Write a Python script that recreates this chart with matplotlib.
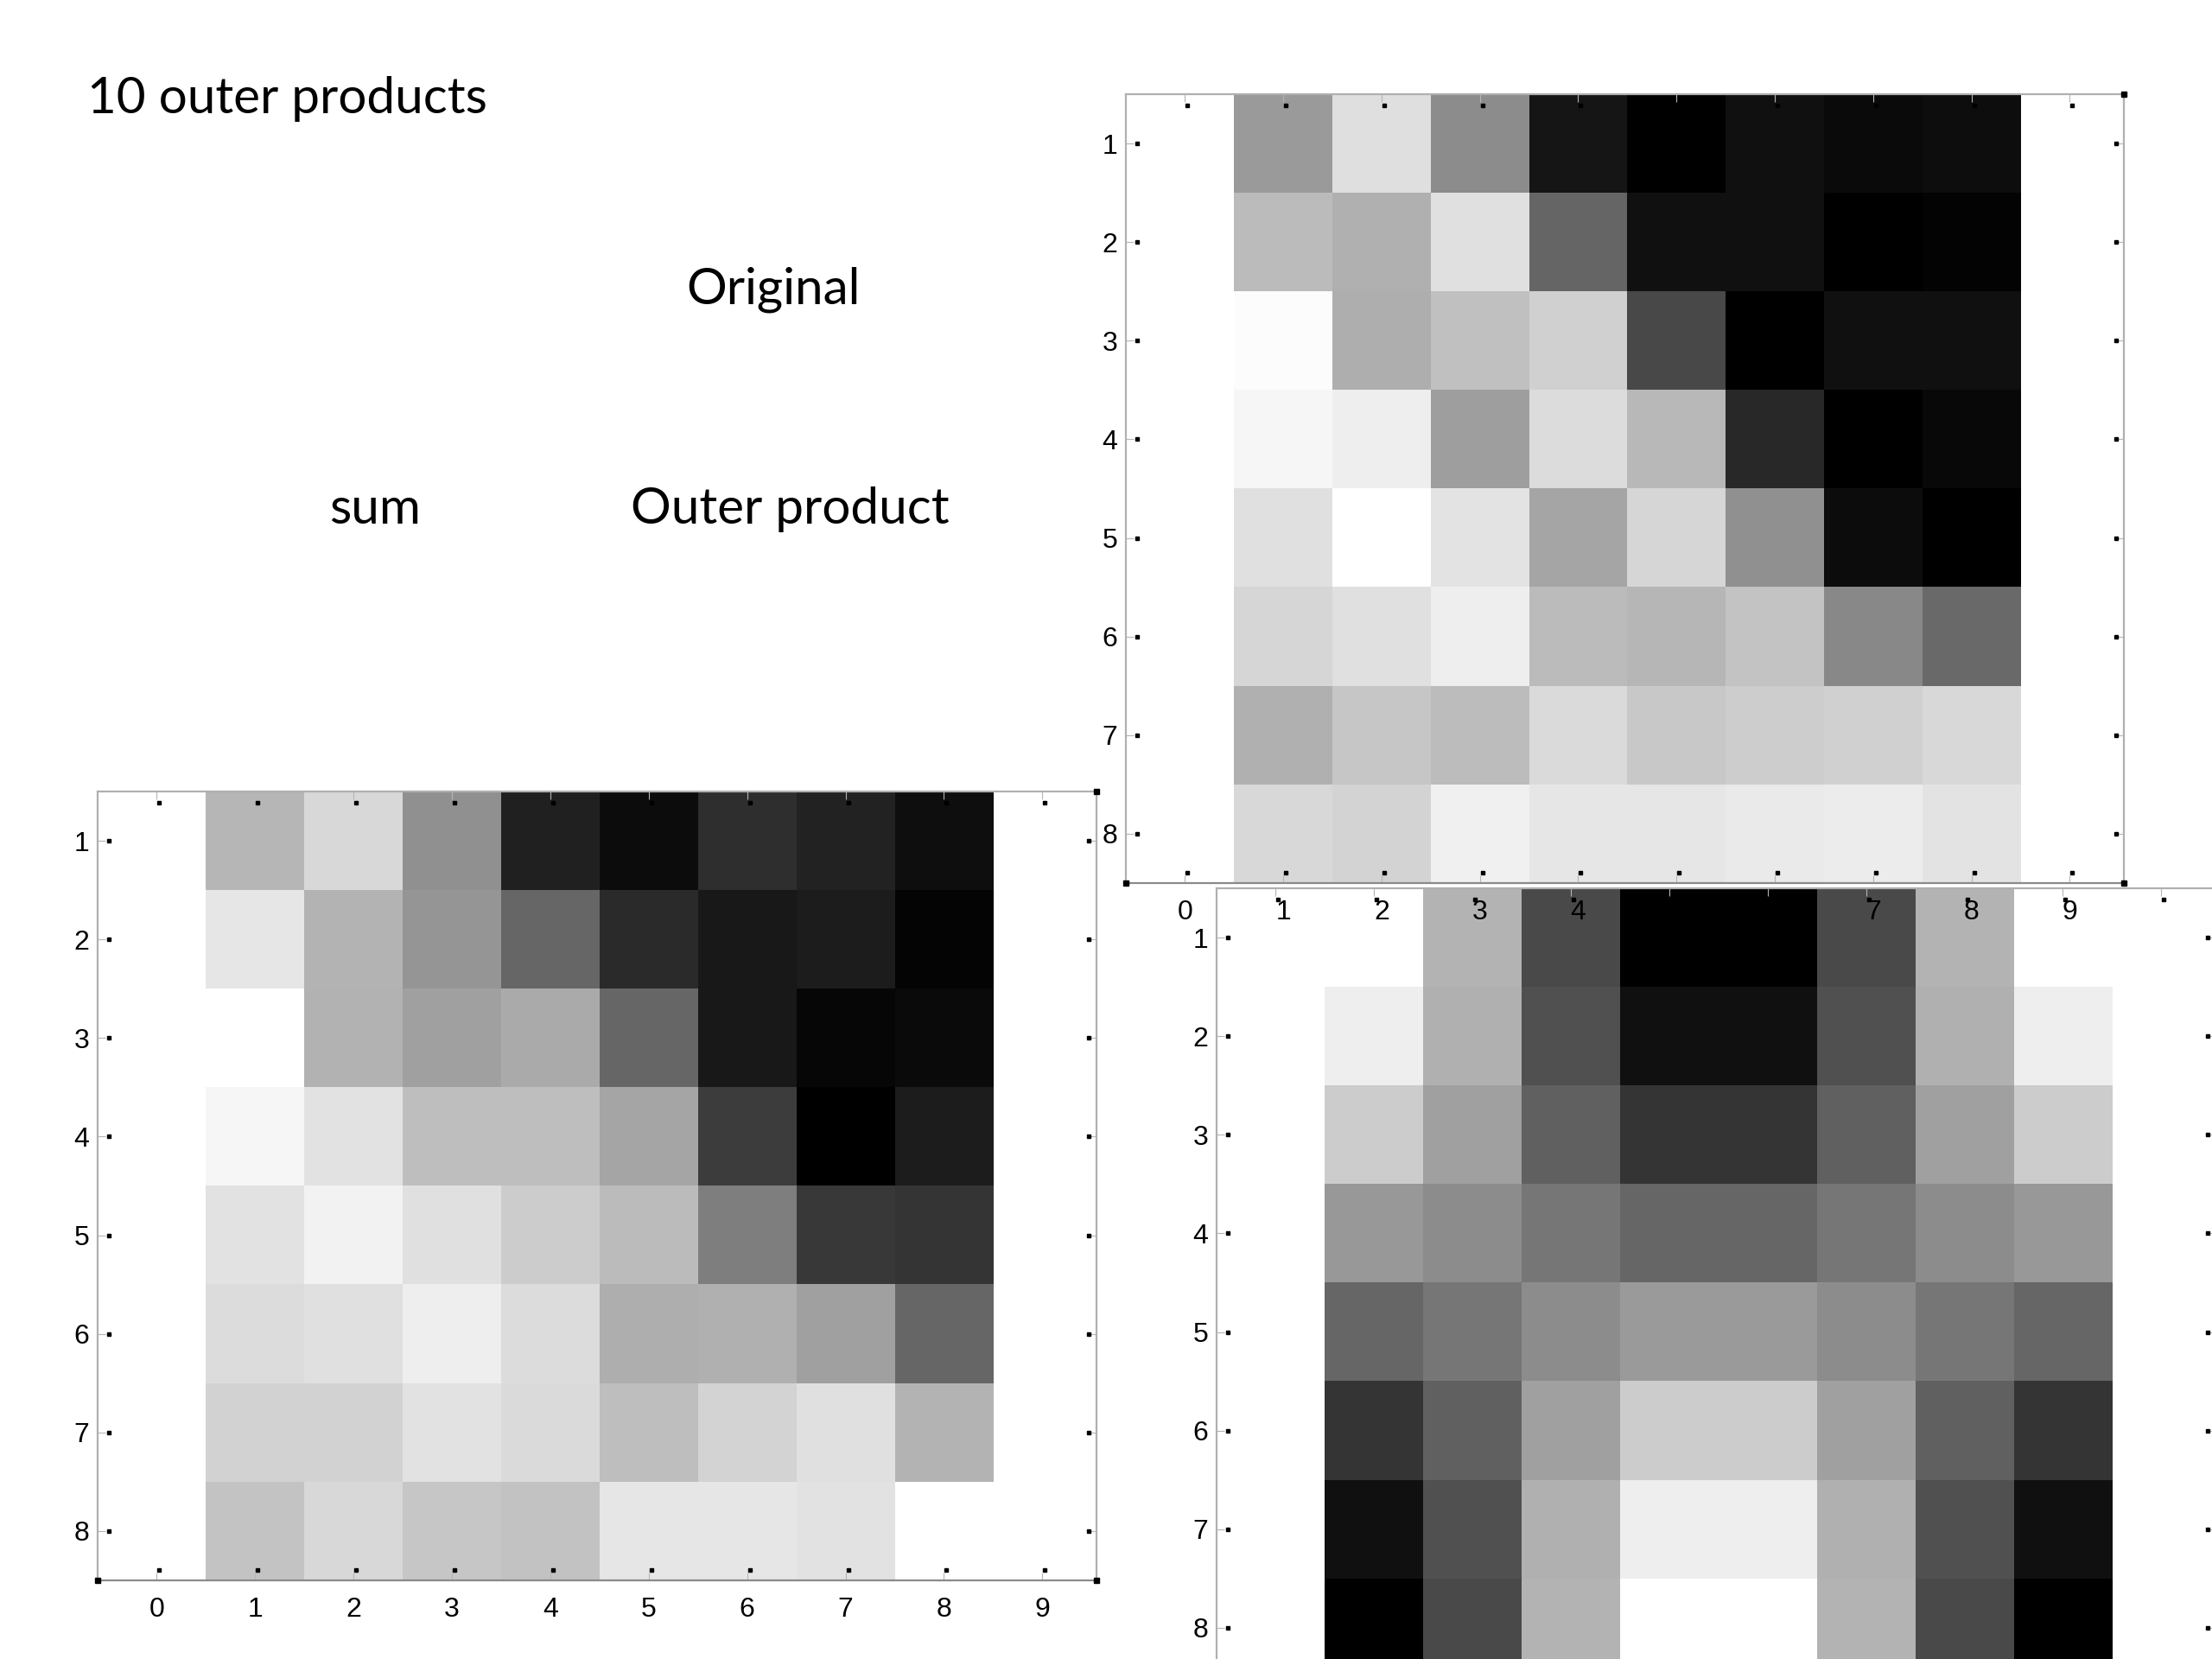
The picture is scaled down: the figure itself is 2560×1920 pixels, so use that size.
import matplotlib
matplotlib.use("Agg")
import matplotlib.pyplot as plt
import numpy as np
from matplotlib.transforms import offset_copy, blended_transform_factory

# ---------------- data (gray levels, 0 = black, 255 = white) ----------------
x_ticks = [0, 1, 2, 3, 4, 5, 6, 7, 8, 9]
y_ticks = [1, 2, 3, 4, 5, 6, 7, 8]

original = [
    [154, 223, 140, 21, 0, 16, 10, 13],
    [187, 176, 224, 101, 16, 16, 0, 3],
    [252, 174, 192, 208, 72, 0, 16, 16],
    [246, 238, 158, 220, 184, 40, 0, 8],
    [224, 255, 228, 165, 214, 144, 12, 0],
    [214, 224, 238, 187, 182, 195, 136, 106],
    [176, 198, 188, 218, 200, 205, 208, 216],
    [216, 212, 240, 230, 230, 234, 236, 228],
]

summed = [
    [182, 216, 144, 32, 12, 46, 34, 14],
    [230, 180, 149, 102, 42, 24, 28, 4],
    [255, 178, 160, 170, 102, 24, 6, 10],
    [246, 226, 190, 190, 165, 60, 0, 28],
    [226, 242, 224, 204, 187, 126, 56, 52],
    [220, 224, 238, 220, 174, 176, 160, 102],
    [210, 210, 226, 218, 190, 212, 224, 180],
    [196, 216, 198, 194, 230, 230, 226, 255],
]

outer = [
    [255, 180, 74, 0, 0, 74, 180, 255],
    [238, 176, 80, 16, 16, 80, 176, 238],
    [204, 160, 96, 53, 53, 96, 160, 204],
    [152, 140, 118, 102, 102, 118, 140, 152],
    [102, 118, 140, 154, 154, 140, 118, 102],
    [53, 96, 160, 204, 204, 160, 96, 53],
    [16, 80, 176, 238, 238, 176, 80, 16],
    [0, 74, 180, 255, 255, 180, 74, 0],
]

title_text = "10 outer products"
label_original = "Original"
label_sum = "sum"
label_outer = "Outer product"

# ---------------- figure ----------------
W, H = 2560, 1920
fig = plt.figure(figsize=(W / 100, H / 100), dpi=100)
fig.patch.set_facecolor("white")

TICK_FONT = ["Liberation Sans", "DejaVu Sans"]
TEXT_FONT = ["Lato", "DejaVu Sans"]


def px_rect(left, top, width, height):
    return [left / W, 1 - (top + height) / H, width / W, height / H]


def heat(ax, data, show_bottom_labels=True):
    ax.imshow(np.array(data, dtype=float), cmap="gray", vmin=0, vmax=255,
              extent=(0.5, 8.5, 8.5, 0.5), interpolation="nearest",
              aspect="auto", zorder=1)
    ax.set_xticks(x_ticks)
    ax.set_yticks(y_ticks)
    ax.set_xticklabels([str(v) for v in x_ticks], family=TICK_FONT)
    ax.set_yticklabels([str(v) for v in y_ticks], family=TICK_FONT)
    ax.tick_params(direction="in", length=6.5, width=0.8, color="#b5b5b5",
                   top=True, right=True, labelsize=23)
    ax.tick_params(axis="x", pad=14, labelbottom=show_bottom_labels)
    ax.tick_params(axis="y", pad=7)
    for sp in ax.spines.values():
        sp.set_color("#b0b0b0")
        sp.set_linewidth(1.6)
    ax.spines["bottom"].set_color("#8a8a8a")

    # small black dots at the tips of the ticks
    tx = blended_transform_factory(ax.transData, ax.transAxes)
    ty = blended_transform_factory(ax.transAxes, ax.transData)
    kw = dict(marker="s", ms=3.0, color="black", ls="none", clip_on=False, zorder=5)
    ax.plot(x_ticks, [0] * len(x_ticks),
            transform=offset_copy(tx, fig=fig, x=3, y=12, units="dots"), **kw)
    ax.plot(x_ticks, [1] * len(x_ticks),
            transform=offset_copy(tx, fig=fig, x=3, y=-13, units="dots"), **kw)
    ax.plot([0] * len(y_ticks), y_ticks,
            transform=offset_copy(ty, fig=fig, x=13, y=0, units="dots"), **kw)
    ax.plot([1] * len(y_ticks), y_ticks,
            transform=offset_copy(ty, fig=fig, x=-9, y=0, units="dots"), **kw)
    # corner marks
    ax.plot([0, 1, 1], [0, 0, 1], marker="s", ms=4.5, color="black", ls="none",
            transform=ax.transAxes, clip_on=False, zorder=6)

    ax.set_xlim(-0.6, 9.55)
    ax.set_ylim(8.5, 0.5)


# bottom-right (outer product), partly off the canvas, drawn underneath
ax_out = fig.add_axes(px_rect(1408, 1028, 1156, 913))
ax_out.set_zorder(1)
heat(ax_out, outer, show_bottom_labels=False)

# top-right (original), its tick labels lie over the outer-product image
ax_orig = fig.add_axes(px_rect(1303, 109, 1155, 913))
ax_orig.set_zorder(3)
heat(ax_orig, original)

# bottom-left (sum)
ax_sum = fig.add_axes(px_rect(113, 916, 1156, 913))
ax_sum.set_zorder(2)
heat(ax_sum, summed)

# ---------------- slide texts ----------------
fs = 42
fig.text(101 / W, 1 - 131 / H, title_text, fontsize=fs, family=TEXT_FONT,
         ha="left", va="baseline")
fig.text(895 / W, 1 - 351 / H, label_original, fontsize=fs, family=TEXT_FONT,
         ha="center", va="baseline")
fig.text(434 / W, 1 - 606 / H, label_sum, fontsize=fs, family=TEXT_FONT,
         ha="center", va="baseline")
fig.text(914 / W, 1 - 606 / H, label_outer, fontsize=fs, family=TEXT_FONT,
         ha="center", va="baseline")

fig.savefig("out.png", dpi=100, facecolor="white")
